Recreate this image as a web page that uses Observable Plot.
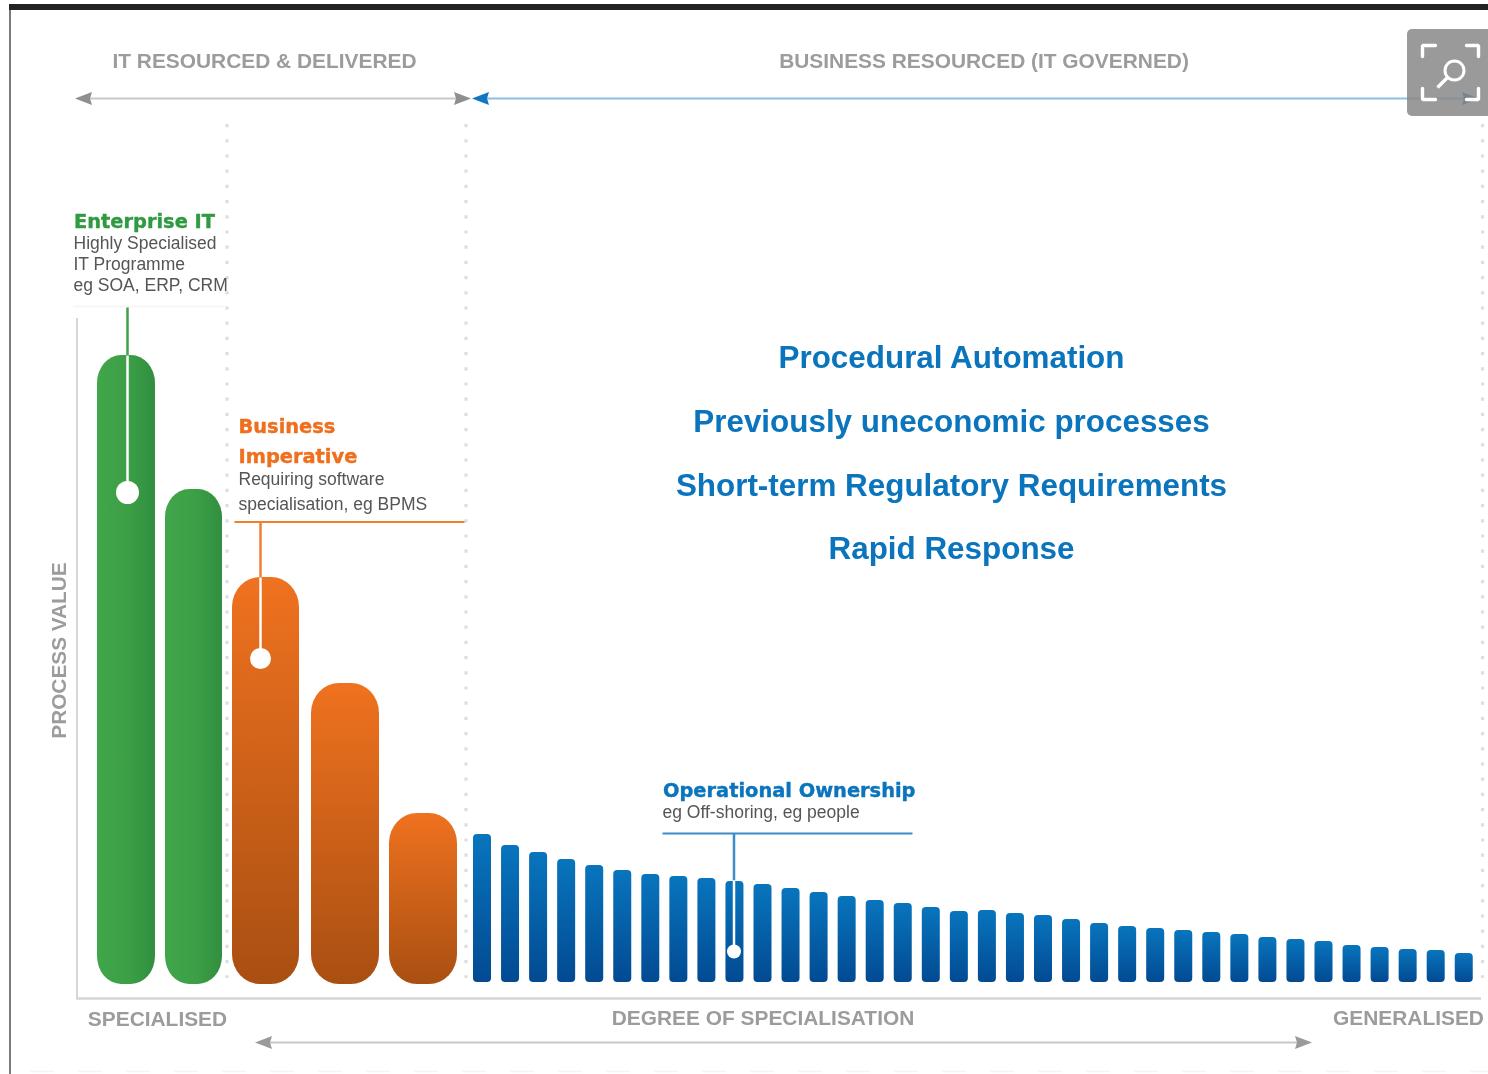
<!DOCTYPE html>
<html>
<head>
<meta charset="utf-8">
<style>
html,body{margin:0;padding:0;background:#fff;overflow:hidden}
svg{display:block;filter:blur(0.7px)}
</style>
<script src="https://cdn.jsdelivr.net/npm/d3@7"></script>
<script src="https://cdn.jsdelivr.net/npm/@observablehq/plot@0.6"></script>
</head>
<body>
<div id="chart"></div>
<script>
// Values. Process value = height above the foot of the bars.
const enterpriseValues = [629, 495];
const enterpriseSpans = [[97, 155], [165, 222]];
const businessValues = [407, 301, 171];
const businessSpans = [[232, 299], [311, 379], [389, 457]];
const operationalValues = [150, 139, 132, 125, 119, 114, 110, 108, 106, 103, 100, 96, 92, 88, 84, 81, 77, 73,
                           74, 71, 69, 65, 61, 58, 56, 54, 52, 50, 47, 45, 43, 39, 37, 35, 34, 31];
const operationalFoot = 2;
const operationalFirst = 473, operationalStep = 28.05, operationalWidth = 18;

const FOOT = 984;                // page row of value 0
const py = p => FOOT - p;        // annotation rows
const SANS = "'Liberation Sans', Arial, sans-serif";
const WIDE = "'DejaVu Sans', Verdana, sans-serif";
const BLUE = "#0a74bd", ORANGE = "#ee6f1e", GREEN = "#2f9a41", GREY = "#9c9c9c", INK = "#555";

const headers = [
  {t: "IT RESOURCED & DELIVERED", x: 264, y: 61},
  {t: "BUSINESS RESOURCED (IT GOVERNED)", x: 983.5, y: 61},
  {t: "SPECIALISED", x: 157, y: 1019},
  {t: "DEGREE OF SPECIALISATION", x: 762.5, y: 1018},
  {t: "GENERALISED", x: 1408, y: 1018}
];
const centreLabels = [
  {t: "Procedural Automation", y: 357.5},
  {t: "Previously uneconomic processes", y: 421.5},
  {t: "Short-term Regulatory Requirements", y: 485},
  {t: "Rapid Response", y: 548.5}
];
const titles = [
  {t: "Enterprise IT", x: 73.5, y: 221, c: GREEN},
  {t: "Business", x: 238, y: 426, c: ORANGE},
  {t: "Imperative", x: 238, y: 456, c: ORANGE},
  {t: "Operational Ownership", x: 662.5, y: 790, c: BLUE}
];
const notes = [
  {t: "Highly Specialised", x: 73, y: 243},
  {t: "IT Programme", x: 73, y: 264},
  {t: "eg SOA, ERP, CRM", x: 73, y: 285},
  {t: "Requiring software", x: 238, y: 479},
  {t: "specialisation, eg BPMS", x: 238, y: 504},
  {t: "eg Off-shoring, eg people", x: 662, y: 812}
];
const dottedColumns = [226.5, 465.5, 1482];
const greyArrows = [[75, 470, 98], [255, 1311, 1042]];
const blueArrow = [472, 1478, 98];
const pins = [
  {x: 127, top: 307, enter: 355, y: 492, r: 11.5, c: "#3f9f4a"},
  {x: 260, top: 522, enter: 577, y: 658, r: 10.5, c: "#f08030"},
  {x: 733.5, top: 833, enter: 880, y: 951, r: 7, c: "#3a8ccb"}
];
const pinShelves = [
  {x1: 234, x2: 464, y: 521.5, c: "#f08030"},
  {x1: 662, x2: 912, y: 833, c: "#3a8ccb"},
  {x1: 73, x2: 225, y: 306, c: "#f6f6f6"}
];
const iconBrackets = [
  [[1422, 56], [1422, 45], [1435, 45]],
  [[1466, 45], [1478, 45], [1478, 56]],
  [[1422, 88], [1422, 99], [1435, 99]],
  [[1466, 99], [1478, 99], [1478, 88]]
];

const head = dir => ({draw(c) {
  c.moveTo(-8.5 * dir, 0); c.lineTo(8.5 * dir, -6.5); c.lineTo(6.5 * dir, 0); c.lineTo(8.5 * dir, 6.5); c.closePath();
}});
const headLeft = head(1), headRight = head(-1);

const bars = (values, spans, fill, rx, ry) => Plot.rect(values, {
  x1: (d, i) => spans[i][0], x2: (d, i) => spans[i][1], y1: 0, y2: d => d, fill, rx, ry, inset: 0
});
const texts = (data, o) => Plot.text(data, {text: "t", x: "x", y: d => py(d.y), lineAnchor: "middle", ...o});

const defs = () => {
  const s = d3.create("svg:defs");
  const grad = (id, horizontal, stops) => {
    const g = s.append("linearGradient").attr("id", id)
      .attr("x1", 0).attr("y1", 0).attr("x2", horizontal ? 1 : 0).attr("y2", horizontal ? 0 : 1);
    stops.forEach(([o, c]) => g.append("stop").attr("offset", o).attr("stop-color", c));
  };
  grad("g-green", true, [[0, "#41a54a"], [0.5, "#3da047"], [1, "#318f3f"]]);
  grad("g-orange", false, [[0, "#ef721f"], [1, "#a94f12"]]);
  grad("g-blue", false, [[0, "#0875bd"], [1, "#024a92"]]);
  return s.node();
};

const arrow = ([a, b, y], line, tip) => [
  Plot.link([0], {x1: a + 8, x2: b - 8, y1: py(y), y2: py(y), stroke: line, strokeWidth: 2.2}),
  Plot.dot([a + 8], {x: d => d, y: py(y), symbol: headLeft, r: 5, fill: tip, stroke: "none"}),
  Plot.dot([b - 8], {x: d => d, y: py(y), symbol: headRight, r: 5, fill: tip, stroke: "none"})
];

const chart = Plot.plot({
  width: 1488, height: 1074,
  marginTop: 0, marginRight: 0, marginBottom: 0, marginLeft: 0,
  x: {domain: [0, 1488], range: [0, 1488], axis: null},
  y: {domain: [FOOT - 1074, FOOT], range: [1074, 0], axis: null},
  marks: [
    defs,
    // page frame
    Plot.rect([0], {x1: 9, x2: 1488, y1: py(4), y2: py(10), fill: "#222"}),
    Plot.ruleX([9.5], {y1: py(10), y2: py(1074), stroke: "#222", strokeWidth: 1.2}),
    Plot.ruleY([py(1071)], {x1: 30, x2: 1488, stroke: "#f4f4f4", strokeWidth: 1.5, strokeDasharray: "24 24"}),
    // dotted columns
    Plot.ruleX(dottedColumns, {y1: py(124), y2: py(978), stroke: "#dedede", strokeWidth: 3.2, strokeDasharray: "3.2 12"}),
    // axes
    Plot.ruleX([76.5], {y1: py(318), y2: py(998), stroke: "#d6d6d6", strokeWidth: 2}),
    Plot.ruleY([py(998)], {x1: 76, x2: 1481, stroke: "#d6d6d6", strokeWidth: 2.4}),
    // bars
    bars(enterpriseValues, enterpriseSpans, "url(#g-green)", 24, 28),
    bars(businessValues, businessSpans, "url(#g-orange)", 28, 30),
    Plot.rect(operationalValues, {
      x1: (d, i) => operationalFirst + i * operationalStep,
      x2: (d, i) => operationalFirst + i * operationalStep + operationalWidth,
      y1: operationalFoot, y2: d => d, fill: "url(#g-blue)", rx: 4
    }),
    // arrows
    ...arrow(greyArrows[0], "#c8c8ca", "#8f8f92"),
    ...arrow(greyArrows[1], "#c8c8ca", "#9a9a9c"),
    ...arrow(blueArrow, "#8dbfe2", "#1077c0"),
    // pins
    Plot.link(pinShelves, {x1: "x1", x2: "x2", y1: d => py(d.y), y2: d => py(d.y), stroke: "c", strokeWidth: 2}),
    Plot.link(pins, {x1: "x", x2: "x", y1: d => py(d.top), y2: d => py(d.enter), stroke: "c", strokeWidth: 2.5}),
    Plot.link(pins, {x1: "x", x2: "x", y1: d => py(d.enter), y2: d => py(d.y), stroke: "#fff", strokeWidth: 2.5}),
    ...pins.map(p => Plot.dot([p], {x: "x", y: d => py(d.y), r: p.r, fill: "#fff", stroke: "none"})),
    // texts
    texts(headers, {textAnchor: "middle", fill: GREY, fontFamily: SANS, fontWeight: 700, fontSize: 20.9}),
    Plot.text(["PROCESS VALUE"], {x: 59, y: py(650), rotate: -90, fill: GREY, fontFamily: SANS, fontWeight: 700, fontSize: 20.8}),
    texts(centreLabels.map(d => ({...d, x: 951})), {textAnchor: "middle", fill: BLUE, fontFamily: SANS, fontWeight: 700, fontSize: 31.4}),
    texts(titles, {textAnchor: "start", fill: "c", fontFamily: WIDE, fontWeight: 700, fontSize: 19.4, stroke: "c", strokeWidth: 0.4}),
    texts(notes, {textAnchor: "start", fill: INK, fontFamily: SANS, fontSize: 17.5}),
    // zoom badge
    Plot.rect([0], {x1: 1407, x2: 1500, y1: py(29), y2: py(116), fill: "#888", fillOpacity: 0.85, rx: 5}),
    ...iconBrackets.map(points => Plot.line(points, {x: d => d[0], y: d => py(d[1]), stroke: "#fff", strokeWidth: 3.4, curve: "linear", strokeLinejoin: "miter"})),
    Plot.dot([0], {x: 1454, y: py(70), r: 9.5, fill: "none", stroke: "#fff", strokeWidth: 3}),
    Plot.link([0], {x1: 1447, y1: py(77), x2: 1437, y2: py(87), stroke: "#fff", strokeWidth: 3.4})
  ]
});
document.getElementById("chart").append(chart);
</script>
</body>
</html>
